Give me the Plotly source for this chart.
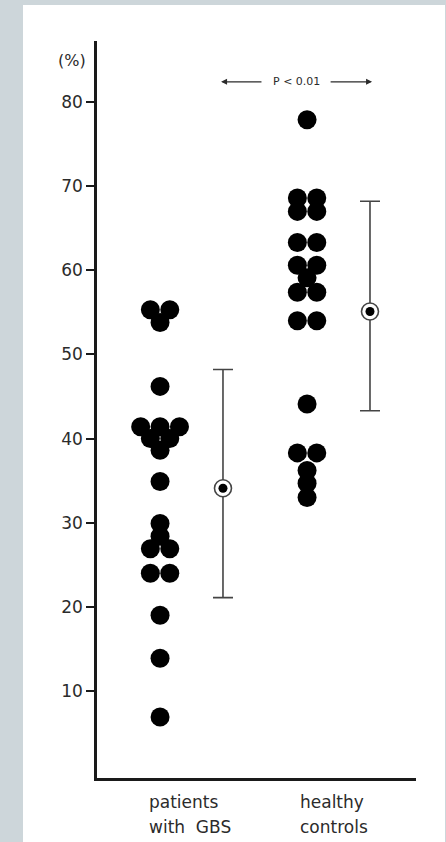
import plotly.graph_objects as go

# ---- data ----
categories = ["patients with GBS", "healthy controls"]
gbs_values = [55.3, 55.3, 53.8, 46.2, 41.4, 41.4, 41.4, 40.0, 40.0, 38.6,
              34.9, 29.9, 28.4, 26.9, 26.9, 24.0, 24.0, 19.0, 13.9, 6.9]
gbs_slots = [-1, 1, 0, 0, -2, 0, 2, -1, 1, 0,
             0, 0, 0, -1, 1, -1, 1, 0, 0, 0]
ctrl_values = [77.9, 68.6, 68.6, 67.0, 67.0, 63.3, 63.3, 60.6, 60.6, 59.1,
               57.4, 57.4, 54.0, 54.0, 44.1, 38.3, 38.3, 36.2, 34.7, 33.0]
ctrl_slots = [0, -1, 1, -1, 1, -1, 1, -1, 1, 0,
              -1, 1, -1, 1, 0, -1, 1, 0, 0, 0]
means = [34.1, 55.1]
sd_plus = [14.1, 13.1]
sd_minus = [13.0, 11.8]
y_ticks = [10, 20, 30, 40, 50, 60, 70, 80]
p_text = "P < 0.01"

# ---- layout constants ----
W, H = 446, 842
L, R, T, B = 97, 30, 41, 64
SLOT = 0.066          # swarm slot width in x units
MEAN_SHIFT = 0.428    # mean/SD bar offset from group centre
FONT = "DejaVu Sans"
TXT = "#2b2b2b"

fig = go.Figure()

for gi, (vals, slots) in enumerate([(gbs_values, gbs_slots), (ctrl_values, ctrl_slots)]):
    centre = gi + 1
    fig.add_trace(go.Scatter(
        x=[centre + s * SLOT for s in slots], y=vals, mode="markers",
        marker=dict(size=19, color="black", line=dict(width=0)),
        showlegend=False, hoverinfo="y"))

mx = [i + 1 + MEAN_SHIFT for i in range(len(means))]
fig.add_trace(go.Scatter(
    x=mx, y=means, mode="markers",
    marker=dict(size=17, color="white", line=dict(color="#444", width=1.6)),
    error_y=dict(type="data", symmetric=False, array=sd_plus, arrayminus=sd_minus,
                 color="#444", thickness=1.6, width=10),
    showlegend=False, hoverinfo="y"))
fig.add_trace(go.Scatter(
    x=mx, y=means, mode="markers",
    marker=dict(size=9, color="black"), showlegend=False, hoverinfo="skip"))

# white panel on grey page
px = lambda p: (p - L) / (W - L - R)
py = lambda p: (H - B - p) / (H - T - B)
fig.add_shape(type="rect", xref="paper", yref="paper",
              x0=px(23), x1=px(445), y0=py(842), y1=py(5),
              fillcolor="white", line=dict(width=0), layer="below")

# P annotation with arrows
py_val = 82.4
fig.add_annotation(x=1.415, y=py_val, ax=1.70, ay=py_val, axref="x", ayref="y",
                   xref="x", yref="y", text="", showarrow=True,
                   arrowhead=2, arrowsize=1, arrowwidth=1.2, arrowcolor=TXT)
fig.add_annotation(x=2.442, y=py_val, ax=2.15, ay=py_val, axref="x", ayref="y",
                   xref="x", yref="y", text="", showarrow=True,
                   arrowhead=2, arrowsize=1, arrowwidth=1.2, arrowcolor=TXT)
fig.add_annotation(x=1.925, y=py_val, xref="x", yref="y", text=p_text,
                   showarrow=False, font=dict(family=FONT, size=11, color=TXT),
                   xanchor="center", yanchor="middle")

# unit label
fig.add_annotation(x=px(72), y=py(61), xref="paper", yref="paper", text="(%)",
                   showarrow=False, font=dict(family=FONT, size=16, color=TXT),
                   xanchor="center", yanchor="middle")

# category labels (two lines each)
cat_lines = [["patients", "with\u00a0\u00a0GBS"], ["healthy", "controls"]]
cat_left = [0.912, 1.939]
for i, lines in enumerate(cat_lines):
    for j, line in enumerate(lines):
        fig.add_annotation(x=cat_left[i], y=py(802 + 25 * j), xref="x", yref="paper",
                           text=line, showarrow=False,
                           font=dict(family=FONT, size=17, color=TXT),
                           xanchor="left", yanchor="middle")

fig.update_xaxes(range=[0.571, 2.741], showline=True, linecolor="#1a1a1a",
                 linewidth=2.5, showgrid=False, zeroline=False,
                 showticklabels=False, ticks="")
fig.update_yaxes(range=[-0.34, 87.25], showline=True, linecolor="#1a1a1a",
                 linewidth=2.5, showgrid=False, zeroline=False,
                 tickvals=y_ticks, ticks="outside", ticklen=8, tickwidth=1.5,
                 tickcolor="#1a1a1a",
                 tickfont=dict(family=FONT, size=17, color=TXT))

fig.update_layout(width=W, height=H, margin=dict(l=L, r=R, t=T, b=B),
                  paper_bgcolor="#cdd6da", plot_bgcolor="white",
                  showlegend=False)

fig.write_html("out.html")
